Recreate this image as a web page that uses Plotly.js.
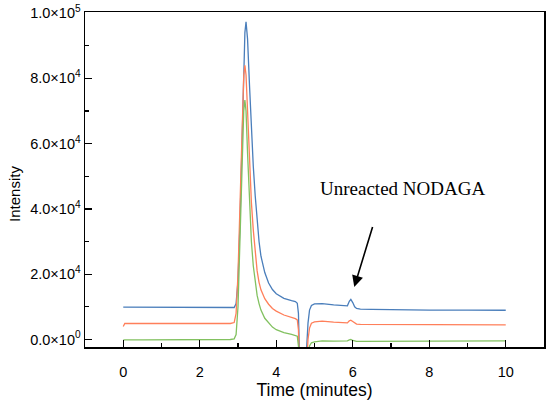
<!DOCTYPE html>
<html>
<head>
<meta charset="utf-8">
<script src="https://cdn.plot.ly/plotly-3.0.1.min.js"></script>
<style>html,body{margin:0;padding:0;background:#fff}#chart{width:550px;height:406px}</style>
</head>
<body>
<div id="chart"></div>
<script>
// Retention time (minutes)
var time = [0, 0.04, 0.5, 1, 1.5, 2, 2.5, 2.8, 2.9, 2.95, 3.0, 3.05, 3.1, 3.15, 3.18, 3.21, 3.25, 3.3, 3.35, 3.4, 3.45, 3.5, 3.55, 3.6, 3.7, 3.8, 3.9, 4.0, 4.2, 4.4, 4.5, 4.55, 4.58, 4.61, 4.65, 4.7, 4.75, 4.79, 4.83, 4.87, 4.92, 5.0, 5.2, 5.5, 5.8, 5.86, 5.91, 5.95, 6.0, 6.05, 6.1, 6.2, 6.5, 7, 8, 9, 10];
// Intensity series
var seriesBlue = [9900, 9900, 9850, 9800, 9800, 9750, 9700, 9700, 9800, 11000, 18000, 35000, 60000, 85000, 94000, 97300, 92000, 78000, 64000, 53000, 44000, 36000, 30000, 25500, 20500, 17300, 15300, 14000, 12600, 11900, 11600, 11100, 8000, -6000, -20000, -20000, -12000, -3000, 5000, 9000, 10400, 10900, 11000, 10600, 10200, 10300, 11700, 12300, 11300, 10000, 9500, 9300, 9200, 9100, 9000, 9000, 8950];
var seriesRed = [4000, 4900, 4900, 4900, 4900, 4900, 4900, 4900, 5200, 8000, 20000, 42000, 65000, 81000, 84000, 81000, 70000, 54000, 42000, 33500, 26500, 21000, 17500, 15200, 12500, 10800, 9500, 8700, 7500, 6800, 6400, 6000, 3000, -10000, -22000, -22000, -16000, -8000, 0, 3500, 5000, 5400, 5600, 5300, 5000, 5100, 5700, 5900, 5500, 5000, 4700, 4600, 4600, 4600, 4500, 4500, 4450];
var seriesGreen = [-200, -100, -100, -100, 0, 0, 0, 0, 200, 1500, 10000, 30000, 55000, 70000, 73300, 70000, 57000, 41000, 30000, 22500, 17000, 13500, 11000, 9000, 6500, 5000, 3800, 3000, 2100, 1600, 1300, 1000, -2000, -14000, -25000, -25000, -20000, -12000, -5000, -2000, -1000, -700, -400, -500, -500, -400, -100, 0, -300, -500, -600, -600, -600, -500, -450, -400, -400];
// Axis tick labels
var yTickVals = [0, 20000, 40000, 60000, 80000, 100000];
var yTickText = ["0.0×10<sup>0</sup>", "2.0×10<sup>4</sup>", "4.0×10<sup>4</sup>", "6.0×10<sup>4</sup>", "8.0×10<sup>4</sup>", "1.0×10<sup>5</sup>"];
var yMinorVals = [10000, 30000, 50000, 70000, 90000];
var xTickVals = [0, 2, 4, 6, 8, 10];
var xMinorVals = [1, 3, 5, 7, 9];
var annotationLabel = "Unreacted NODAGA";
var yTitle = "Intensity";
var xTitle = "Time (minutes)";

var traces = [
  {x: time, y: seriesBlue, mode: 'lines', line: {color: '#4a7ebb', width: 1.3}, hoverinfo: 'skip'},
  {x: time, y: seriesRed, mode: 'lines', line: {color: '#ff7f5a', width: 1.3}, hoverinfo: 'skip'},
  {x: time, y: seriesGreen, mode: 'lines', line: {color: '#82c160', width: 1.3}, hoverinfo: 'skip'}
];

var sans = 'Liberation Sans, Arial, sans-serif';
var axisFont = {family: sans, size: 14.5, color: '#000'};

var layout = {
  width: 550, height: 406,
  margin: {l: 85, r: 6, t: 12, b: 59},
  paper_bgcolor: '#fff', plot_bgcolor: '#fff',
  showlegend: false,
  xaxis: {
    range: [-1, 11],
    tickmode: 'array', tickvals: xTickVals, ticktext: xTickVals.map(String),
    ticks: 'inside', ticklen: 7, tickwidth: 1.3, tickcolor: '#000',
    minor: {tickmode: 'array', tickvals: xMinorVals, ticks: 'inside', ticklen: 4, tickwidth: 1.3, tickcolor: '#000'},
    showline: true, linecolor: '#000', linewidth: 1.5, mirror: true,
    showgrid: false, zeroline: false,
    tickfont: axisFont, ticklabelstandoff: 11,
    title: {text: xTitle, font: {family: sans, size: 17.5, color: '#000'}, standoff: 5}
  },
  yaxis: {
    range: [-2300, 100300],
    tickmode: 'array', tickvals: yTickVals, ticktext: yTickText,
    ticks: 'inside', ticklen: 7, tickwidth: 1.3, tickcolor: '#000',
    minor: {tickmode: 'array', tickvals: yMinorVals, ticks: 'inside', ticklen: 4, tickwidth: 1.3, tickcolor: '#000'},
    showline: true, linecolor: '#000', linewidth: 1.5, mirror: true,
    showgrid: false, zeroline: false,
    tickfont: axisFont
  },
  annotations: [
    {x: -0.1525, y: 0.457, xref: 'paper', yref: 'paper', text: yTitle, textangle: -90, showarrow: false,
     xanchor: 'center', yanchor: 'middle', font: {family: sans, size: 15, color: '#000'}},
    {x: 7.29, y: 46100, xref: 'x', yref: 'y', text: annotationLabel, showarrow: false,
     font: {family: 'Liberation Serif, Times New Roman, serif', size: 19, color: '#000'}},
    {x: 6.04, y: 16100, ax: 6.53, ay: 34900, xref: 'x', yref: 'y', axref: 'x', ayref: 'y',
     text: '', showarrow: true, arrowhead: 2, arrowsize: 1.4, arrowwidth: 1.6, arrowcolor: '#000'}
  ]
};

Plotly.newPlot('chart', traces, layout, {staticPlot: true, displayModeBar: false});
</script>
</body>
</html>
